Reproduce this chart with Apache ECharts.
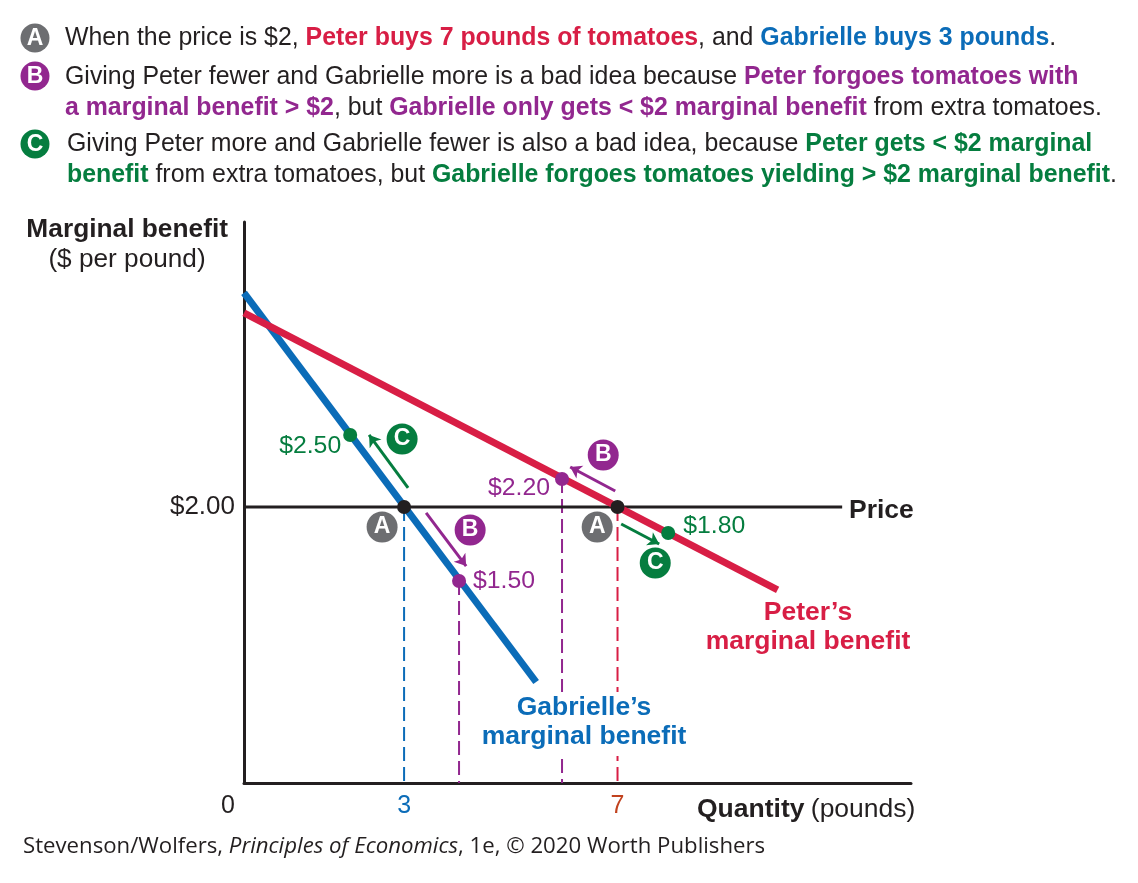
<!DOCTYPE html>
<html><head><meta charset="utf-8">
<style>html,body{margin:0;padding:0;background:#fff}#c{width:1138px;height:883px}</style>
<script src="https://cdn.jsdelivr.net/npm/echarts@6/dist/echarts.min.js"></script>
</head><body><div id="c"></div>
<script>
const RED='#d81e45',BLUE='#0b6cb8',PURPLE='#92278f',GREEN='#057d3f',GRAY='#6d6e71',INK='#231f20',ORANGE='#c1421e';
const gabrielle=[[0,3.551],[5.475,0.732]];
const peter=[[0,3.406],[10,1.399]];
const priceLine=[[0,2],[11.21,2]];
const dropBlue=[[3,2],[3,0]];
const dropPeter=[[7,2],[7,0]];
const dropPurple1=[[4.03,1.464],[4.03,0]];
const dropPurple2=[[5.96,2.203],[5.96,0]];
const equilibrium=[[3,2],[7,2]];
const purplePoints=[[4.03,1.464],[5.96,2.203]];
const purpleNames=['$1.50','$2.20'];
const greenPoints=[[1.99,2.522],[7.95,1.812]];
const greenNames=['$2.50','$1.80'];
const arrowsPurple=[[[3.413,1.957],[4.163,1.572]],[[6.957,2.116],[6.113,2.290]]];
const arrowsGreen=[[[3.075,2.138],[2.344,2.522]],[[7.069,1.877],[7.781,1.732]]];
const badgesA=[[2.588,1.855],[6.619,1.855]];
const badgesB=[[4.238,1.833],[6.732,2.377]];
const badgesC=[[2.963,2.493],[7.707,1.594]];
const xTicks=[0,3,7];
const yTicks=[2];
const FONT='"Liberation Sans",Arial,sans-serif';
const textLines=[
 [65,38,[['n','When the price is $2, '],['r','Peter buys 7 pounds of tomatoes'],['n',', and '],['u','Gabrielle buys 3 pounds'],['n','.']]],
 [65,77,[['n','Giving Peter fewer and Gabrielle more is a bad idea because '],['p','Peter forgoes tomatoes with']]],
 [65,108,[['p','a marginal benefit > $2'],['n',', but '],['p','Gabrielle only gets < $2 marginal benefit'],['n',' from extra tomatoes.']]],
 [67,144,[['n','Giving Peter more and Gabrielle fewer is also a bad idea, because '],['g','Peter gets < $2 marginal']]],
 [67,175,[['g','benefit'],['n',' from extra tomatoes, but '],['g','Gabrielle forgoes tomatoes yielding > $2 marginal benefit'],['n','.']]]
];
const topBadges=[[35,38,'A',GRAY],[35,76,'B',PURPLE],[35,144,'C',GREEN]];
const FS=24.88;
const rich={
 n:{fontSize:FS,fontFamily:FONT,fill:INK,color:INK},
 r:{fontSize:FS,fontFamily:FONT,fontWeight:'bold',fill:RED,color:RED},
 u:{fontSize:FS,fontFamily:FONT,fontWeight:'bold',fill:BLUE,color:BLUE},
 p:{fontSize:FS,fontFamily:FONT,fontWeight:'bold',fill:PURPLE,color:PURPLE},
 g:{fontSize:FS,fontFamily:FONT,fontWeight:'bold',fill:GREEN,color:GREEN}
};
const graphic=[];
textLines.forEach(l=>graphic.push({type:'text',z:20,x:l[0],y:l[1],style:{
  text:l[2].map(s=>'{'+s[0]+'|'+s[1]+'}').join(''),rich,verticalAlign:'middle',align:'left'}}));
topBadges.forEach(b=>{
  graphic.push({type:'circle',z:20,shape:{cx:b[0],cy:b[1],r:14.5},style:{fill:b[3]}});
  graphic.push({type:'text',z:21,x:b[0],y:b[1]+1,style:{text:b[2],fill:'#fff',font:'bold 23px '+FONT,align:'center',verticalAlign:'middle'}});
});
function lab(x,y,text,color,weight,size,align,fam){
  graphic.push({type:'text',z:20,x,y,style:{text,fill:color,font:(weight||'normal')+' '+(size||25)+'px '+(fam||FONT),align:align||'left',verticalAlign:'middle'}});
}
graphic.push({type:'rect',z:19,shape:{x:480,y:692,width:210,height:64},style:{fill:'#fff'}});
lab(228,230,'Marginal benefit',INK,'bold',26.3,'right');
lab(127,260,'($ per pound)',INK,'normal',26.2,'center');
lab(849,511,'Price',INK,'bold',26.5,'left');
lab(808,613,'Peter\u2019s',RED,'bold',26.5,'center');
lab(808,642,'marginal benefit',RED,'bold',26.5,'center');
lab(584,708,'Gabrielle\u2019s',BLUE,'bold',26.5,'center');
lab(584,737,'marginal benefit',BLUE,'bold',26.5,'center');
graphic.push({type:'text',z:20,x:697,y:810,style:{text:'{b|Quantity} {n|(pounds)}',verticalAlign:'middle',rich:{
  b:{fontSize:26.5,fontWeight:'bold',fontFamily:FONT,fill:INK},n:{fontSize:26.5,fontFamily:FONT,fill:INK,padding:[0,0,0,3]}}}});
graphic.push({type:'text',z:20,x:23,y:847,style:{text:'{n|Stevenson/Wolfers, }{i|Principles of Economics}{n|, 1e, \u00a9 2020 Worth Publishers}',verticalAlign:'middle',rich:{
  n:{fontSize:22.2,fontFamily:'"Open Sans"',fill:INK},i:{fontSize:22.2,fontStyle:'italic',fontFamily:'"Open Sans"',fill:INK}}}});

function seg(name,data,color,width,dash,z){return {name,type:'line',data,showSymbol:false,symbol:'none',z:z,silent:true,
  lineStyle:{color,width,type:dash||'solid',cap:'butt'}};}
function dots(name,data,color,z){return {name,type:'scatter',data,symbol:'circle',symbolSize:14,z:z,silent:true,itemStyle:{color,opacity:1}};}
function labeled(name,data,names,color,places){return {name,type:'scatter',symbol:'circle',symbolSize:14,z:7,silent:true,
  itemStyle:{color,opacity:1},
  data:data.map((d,i)=>({value:d,name:names[i],label:{show:true,position:places[i].position,offset:places[i].offset,distance:places[i].distance,
    formatter:'{b}',color,fontFamily:FONT,fontSize:24.8}}))};}
function badge(name,data,letter,color){return {name,type:'scatter',data,symbol:'circle',symbolSize:31,z:8,silent:true,
  itemStyle:{color,opacity:1},label:{show:true,position:'inside',formatter:letter,color:'#fff',fontFamily:FONT,fontWeight:'bold',fontSize:23}};}
function arrows(name,data,color){return {name,type:'lines',coordinateSystem:'cartesian2d',polyline:false,silent:true,z:6,
  symbol:['none','arrow'],symbolSize:11,
  lineStyle:{color,width:3,opacity:1,curveness:0},data:data.map(c=>({coords:c}))};}

const series=[
 seg('dropBlue',dropBlue,BLUE,2,[14,6],2),
 seg('dropPeter',dropPeter,RED,2,[14,6],2),
 seg('dropPurple1',dropPurple1,PURPLE,2,[14,6],2),
 seg('dropPurple2',dropPurple2,PURPLE,2,[14,6],2),
 seg('Price',priceLine,INK,3,null,3),
 seg('Gabrielle\u2019s marginal benefit',gabrielle,BLUE,7,null,4),
 seg('Peter\u2019s marginal benefit',peter,RED,7,null,4),
 arrows('arrowsPurple',arrowsPurple,PURPLE),
 arrows('arrowsGreen',arrowsGreen,GREEN),
 dots('equilibrium',equilibrium,INK,7),
 labeled('purple',purplePoints,purpleNames,PURPLE,[{position:'right',distance:7,offset:[0,0]},{position:'left',distance:5,offset:[0,9]}]),
 labeled('green',greenPoints,greenNames,GREEN,[{position:'left',distance:2,offset:[0,11]},{position:'right',distance:8,offset:[0,-7]}]),
 badge('A',badgesA,'A',GRAY),
 badge('B',badgesB,'B',PURPLE),
 badge('C',badgesC,'C',GREEN)
];
const chart=echarts.init(document.getElementById('c'),null,{renderer:'canvas'});
chart.setOption({
 animation:false,backgroundColor:'#fff',
 grid:{left:244,top:222,width:667,height:561,containLabel:false},
 xAxis:{type:'value',min:0,max:12.5,splitLine:{show:false},axisTick:{show:false},
  axisLine:{show:true,onZero:false,lineStyle:{color:INK,width:3}},
  axisLabel:{customValues:xTicks,showMinLabel:true,margin:11,fontFamily:FONT,fontSize:25,
   formatter:v=>v===0?'{z|0}':(v===3?'{b|3}':'{o|7}'),
   rich:{z:{color:INK,fontFamily:FONT,fontSize:25,padding:[0,32,0,0]},b:{color:BLUE,fontFamily:FONT,fontSize:25},o:{color:ORANGE,fontFamily:FONT,fontSize:25}}}},
 yAxis:{type:'value',min:0,max:4.065,splitLine:{show:false},axisTick:{show:false},
  axisLine:{show:true,onZero:false,lineStyle:{color:INK,width:3}},
  axisLabel:{customValues:yTicks,margin:9,color:INK,fontFamily:FONT,fontSize:26,padding:[3,0,0,0],formatter:v=>'$'+v.toFixed(2)}},
 series,graphic
});
</script></body></html>
